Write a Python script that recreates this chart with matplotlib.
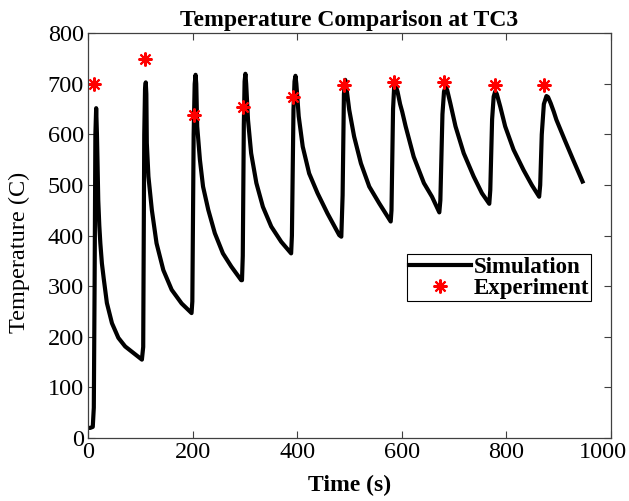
import matplotlib
matplotlib.use("Agg")
import matplotlib.pyplot as plt
import matplotlib.transforms as mtransforms

# simulation curve (cycle by cycle)
sim_time = [0, 4, 9, 11, 12.5, 14, 15.5, 17, 18, 19.5, 21.5, 23.5, 26.5, 30, 36, 45.7, 58, 71, 87, 103,
            105.5, 107.5, 109, 110.4, 111.5, 112.4, 115.5, 122, 131, 144, 160, 179, 198,
            199.5, 202, 204, 205.7, 207, 208.8, 214, 220, 230, 242.5, 258, 274, 293,
            294.5, 296, 298, 299.5, 301, 302.5, 306, 312, 322, 334.5, 350.5, 369.5, 388.5,
            390, 393, 395, 396.8, 398.5, 403, 410.7, 423, 439, 458, 480.6, 484.5,
            487, 489.5, 492, 494, 499.6, 509, 522, 538, 557, 579,
            580.5, 583.5, 585.5, 587, 589, 592, 597, 601, 607.6, 623, 642.5, 658, 672,
            674, 678, 681, 684, 687, 693, 703, 718.7, 737.7, 753.5, 767.6,
            769.5, 773, 776, 779, 782, 788.6, 798, 814, 833, 849, 863,
            865, 868, 872, 877, 880, 885, 891, 896, 912, 928, 946]
sim_temp = [20, 20, 22, 60, 300, 600, 652, 600, 550, 470, 420, 385, 345, 315, 267, 227, 198, 181, 168, 155,
            180, 600, 690, 703, 680, 583, 517, 451, 385, 332, 293, 266, 247,
            270, 600, 700, 718, 700, 616, 550, 497, 451, 405, 365, 339, 312,
            312, 360, 620, 705, 720, 700, 629, 563, 504, 457, 418, 388, 365,
            400, 650, 705, 716, 700, 636, 576, 523, 484, 444, 401, 398,
            480, 680, 708, 695, 649, 596, 543, 497, 464, 428,
            450, 650, 692, 700, 695, 685, 660, 645, 616, 556, 504, 477, 446,
            470, 640, 685, 694, 688, 662, 616, 563, 517, 484, 463,
            490, 630, 675, 685, 680, 655, 616, 570, 530, 500, 477,
            500, 600, 660, 676, 674, 662, 645, 629, 589, 550, 507]

# experiment points
exp_time = [12, 109, 203, 296, 393, 490, 585, 681, 779, 873]
exp_temp = [700, 750, 638, 655, 675, 698, 703, 703, 698, 698]

plt.rcParams['font.family'] = ['Liberation Serif', 'DejaVu Serif']

fig = plt.figure(figsize=(6.29, 5.01), dpi=100)
ax = fig.add_axes([0.140, 0.1257, 0.831, 0.8078])

ax.plot(sim_time, sim_temp, color='black', linewidth=3, solid_joinstyle='round',
        label='Simulation')
ax.plot(exp_time, exp_temp, linestyle='none', marker=(8, 2, 0), color='red',
        markersize=10, markeredgewidth=1.5, label='Experiment')

ax.set_xlim(0, 1000)
ax.set_ylim(0, 800)
ax.set_xticks(range(0, 1001, 200))
ax.set_yticks(range(0, 801, 100))
ax.tick_params(direction='in', length=5, width=0.8, top=True, right=True,
               labelsize=17.5, color='#404040', pad=3)
for sp in ax.spines.values():
    sp.set_color('#404040')
    sp.set_linewidth(0.9)

# nudge the last x tick label so it stays inside the figure
last = ax.get_xticklabels()[-1]
last.set_transform(last.get_transform() +
                   mtransforms.ScaledTranslation(-8 / 100, 0, fig.dpi_scale_trans))

ax.set_title('Temperature Comparison at TC3', fontsize=17, fontweight='bold', pad=5)
ax.set_xlabel('Time (s)', fontsize=17, fontweight='bold')
ax.set_ylabel('Temperature (C)', fontsize=17.5)
ax.xaxis.set_label_coords(0.5, -0.092)
ax.yaxis.set_label_coords(-0.112, 0.458)

leg = ax.legend(loc='upper right', bbox_to_anchor=(0.963, 0.454), fancybox=False,
                edgecolor='black', framealpha=1, prop={'weight': 'bold', 'size': 16.5},
                handlelength=2.7, handletextpad=0.1, borderpad=0.1,
                labelspacing=0.0, borderaxespad=0)
leg.get_frame().set_linewidth(0.8)

fig.savefig('out.png', dpi=100)
